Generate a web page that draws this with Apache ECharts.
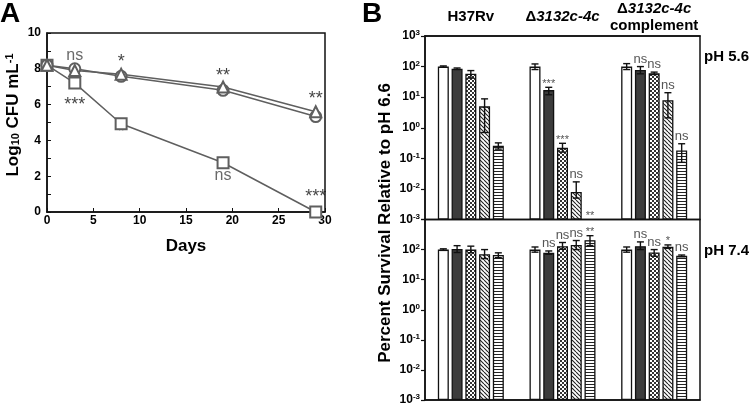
<!DOCTYPE html>
<html lang="en">
<head>
<meta charset="UTF-8">
<title>Survival at acidic pH</title>
<script src="https://cdn.jsdelivr.net/npm/echarts@6/dist/echarts.min.js"></script>
<style>html,body{margin:0;padding:0;background:#fff;}</style>
</head>
<body>
<div id="mybox" style="width:750px;height:408px;"></div>
<script>
// ---- panel A: log10 CFU/mL over time ----
var days = [0, 3, 8, 19, 29];
var circleLog = [8.2, 8.0, 7.58, 6.8, 5.33];
var triangleLog = [8.2, 7.9, 7.7, 6.98, 5.6];
var squareLog = [8.2, 7.2, 4.93, 2.75, 0.0];
// significance marks in A: [day, y, text]
var notesA = [[3, 8.75, 'ns'], [8, 8.4, '*'], [19, 7.6, '**'], [29, 6.3, '**'],
              [3, 6.0, '***'], [8, 4.45, '*'], [19, 2.05, 'ns'], [29, 0.85, '***']];

// ---- panel B: percent survival relative to pH 6.6 ----
var strains = ['H37Rv', 'Δ3132c-4c', 'Δ3132c-4c complement'];
var barKinds = ['white', 'dark', 'checker', 'diagonal', 'horizontal'];
// one row per strain, one column per bar kind
var ph56Mean = [[100, 85, 58, 5, 0.26], [100, 17, 0.22, 0.008, null], [100, 78, 60, 8, 0.18]];
var ph56Low  = [[95, 80, 42, 0.7, 0.2], [80, 12, 0.16, 0.005, null], [80, 58, 55, 2.1, 0.074]];
var ph56High = [[105, 90, 74, 8.8, 0.32], [122, 21, 0.31, 0.017, null], [125, 100, 66, 14, 0.3]];
var ph56Sig  = [['', '', '', '', ''], ['', '***', '***', 'ns', '**'], ['', 'ns', 'ns', 'ns', 'ns']];
var ph74Mean = [[100, 105, 100, 70, 66], [100, 78, 130, 143, 205], [100, 130, 80, 125, 62]];
var ph74Low  = [[94, 80, 78, 50, 54], [82, 70, 102, 100, 136], [82, 100, 60, 110, 58]];
var ph74High = [[106, 135, 130, 100, 78], [122, 90, 172, 200, 290], [122, 180, 100, 143, 66]];
var ph74Sig  = [['', '', '', '', ''], ['', 'ns', 'ns', 'ns', '**'], ['', 'ns', 'ns', '*', 'ns']];
var yTicksB = [0.001, 0.01, 0.1, 1, 10, 100, 1000];

var FONT = '"Liberation Sans", Arial, Helvetica, sans-serif';
var BAR_W = 11, BAR_STEP = 13.75;
var INK = '#111';

// fill patterns for the bars
function pattern(kind) {
    if (kind === 'white') return '#ffffff';
    if (kind === 'dark') return '#3c3c3c';
    var c = document.createElement('canvas');
    var ctx;
    if (kind === 'checker') {
        c.width = 4; c.height = 4; ctx = c.getContext('2d');
        ctx.fillStyle = '#fff'; ctx.fillRect(0, 0, 4, 4);
        ctx.fillStyle = '#333'; ctx.fillRect(0, 0, 2, 2); ctx.fillRect(2, 2, 2, 2);
    } else if (kind === 'diagonal') {
        c.width = 4; c.height = 4; ctx = c.getContext('2d');
        ctx.fillStyle = '#fff'; ctx.fillRect(0, 0, 4, 4);
        ctx.strokeStyle = '#222'; ctx.lineWidth = 1.1;
        ctx.beginPath();
        [-4, 0, 4].forEach(function (k) { ctx.moveTo(k, 0); ctx.lineTo(k + 4, 4); });
        ctx.stroke();
    } else {
        c.width = 4; c.height = 3; ctx = c.getContext('2d');
        ctx.fillStyle = '#fff'; ctx.fillRect(0, 0, 4, 3);
        ctx.fillStyle = '#222'; ctx.fillRect(0, 0, 4, 1);
    }
    return {image: c, repeat: 'repeat'};
}

function pairs(xs, ys) {
    return xs.map(function (x, i) { return [x, ys[i]]; });
}

function powLabel(v) {
    var e = Math.round(Math.log10(v));
    return '{b|10}{s|' + e + '}';
}

function strainLabel(v) {
    if (v.indexOf('Δ') !== 0) return '{b|' + v + '}';
    var out = '{b|Δ}{bi|3132c-4c}';
    if (v.indexOf('complement') > 0) out += '\n{b|complement}';
    return out;
}

// error bars + significance text, placed on the bar of the same strain/kind
function errRender(sigFlat) {
    return function (params, api) {
        var g = api.value(0), b = api.value(1);
        var lo = api.value(2), hi = api.value(3);
        var anchor = api.coord([g, api.value(4)]);
        var x = anchor[0] + (b - 2) * BAR_STEP;
        var kids = [];
        if (!isNaN(hi) && hi > 0) {
            var yHi = api.coord([g, hi])[1];
            var yLo = api.coord([g, lo])[1];
            var ls = {stroke: INK, lineWidth: 1.4};
            kids.push({type: 'line', shape: {x1: x, y1: yLo, x2: x, y2: yHi}, style: ls});
            kids.push({type: 'line', shape: {x1: x - 3.5, y1: yHi, x2: x + 3.5, y2: yHi}, style: ls});
            kids.push({type: 'line', shape: {x1: x - 3.5, y1: yLo, x2: x + 3.5, y2: yLo}, style: ls});
        }
        var t = sigFlat[params.dataIndex];
        if (t) {
            var isNs = t === 'ns';
            kids.push({
                type: 'text', x: x, y: anchor[1] - (isNs ? 1 : -2),
                style: {text: t, align: 'center', verticalAlign: 'bottom', fill: '#555',
                    fontFamily: FONT, fontSize: isNs ? 13 : 11}
            });
        }
        return {type: 'group', children: kids};
    };
}

function panelSeries(idx, mean, low, high, sig) {
    var list = [];
    barKinds.forEach(function (kind, b) {
        list.push({
            type: 'bar', name: kind, xAxisIndex: idx, yAxisIndex: idx,
            data: mean.map(function (row) { return row[b]; }),
            barWidth: BAR_W, barGap: '25%',
            itemStyle: {color: pattern(kind), borderColor: INK, borderWidth: 1.3},
            silent: true
        });
    });
    var flat = [], sigFlat = [];
    mean.forEach(function (row, g) {
        row.forEach(function (m, b) {
            var top = high[g][b] != null ? high[g][b] : 0.001;
            flat.push([g, b, low[g][b], high[g][b], top]);
            sigFlat.push(sig[g][b]);
        });
    });
    list.push({
        type: 'custom', xAxisIndex: idx, yAxisIndex: idx, data: flat,
        encode: {x: 0, y: 4}, renderItem: errRender(sigFlat), z: 10, silent: true, clip: false
    });
    return list;
}

var axisLine = {show: true, lineStyle: {color: INK, width: 1.5}};
var gridBase = {show: true, borderColor: INK, borderWidth: 1.5, outerBoundsMode: 'none', containLabel: false};
var boldTick = {color: '#000', fontWeight: 'bold', fontSize: 12, fontFamily: FONT};
var richPow = {
    b: {fontWeight: 'bold', fontSize: 12, fontFamily: FONT, color: '#000'},
    s: {fontWeight: 'bold', fontSize: 8, fontFamily: FONT, color: '#000', verticalAlign: 'top', padding: [0, 0, 6, 0]}
};
function logAxis(gridIndex, hideTop) {
    return {
        gridIndex: gridIndex, type: 'log', logBase: 10, min: yTicksB[0], max: yTicksB[yTicksB.length - 1],
        startValue: yTicksB[0],
        axisLine: axisLine, splitLine: {show: false},
        axisTick: {show: true, length: 4, lineStyle: {color: INK, width: 1.2}},
        axisLabel: {margin: 5, formatter: function (v) {
            if (hideTop && Math.round(Math.log10(v)) === 3) return '';
            return powLabel(v);
        }, rich: richPow}
    };
}

var mychart = echarts.init(document.getElementById('mybox'));
var seriesA = [
    {data: squareLog, symbol: 'emptyRect', size: 11},
    {data: circleLog, symbol: 'emptyCircle', size: 11},
    {data: triangleLog, symbol: 'emptyTriangle', size: 11}
].map(function (s) {
    return {
        type: 'line', xAxisIndex: 0, yAxisIndex: 0, data: pairs(days, s.data),
        symbol: s.symbol, symbolSize: s.size, showSymbol: true,
        lineStyle: {color: '#5f5f5f', width: 1.5},
        itemStyle: {color: '#5f5f5f', borderWidth: 1.5}
    };
});
seriesA.push({
    type: 'scatter', xAxisIndex: 0, yAxisIndex: 0, data: notesA, symbolSize: 0, silent: true,
    label: {show: true, position: 'inside', formatter: function (p) {
        return p.value[2] === 'ns' ? '{n|ns}' : '{a|' + p.value[2] + '}';
    }, rich: {
        n: {fontSize: 16, color: '#444', fontFamily: FONT},
        a: {fontSize: 18, color: '#111', fontFamily: FONT}
    }}
});

mychart.setOption({
    animation: false,
    grid: [
        Object.assign({left: 47, top: 33, width: 278, height: 179}, gridBase),
        Object.assign({left: 425, top: 36, width: 275, height: 183.5}, gridBase),
        Object.assign({left: 425, top: 219.5, width: 275, height: 180.5}, gridBase)
    ],
    xAxis: [
        {gridIndex: 0, type: 'value', min: 0, max: 30, interval: 5,
            axisLine: axisLine, splitLine: {show: false},
            axisTick: {show: true, inside: true, length: 4, lineStyle: {color: INK}},
            axisLabel: Object.assign({margin: 3}, boldTick)},
        {gridIndex: 1, type: 'category', data: strains, position: 'top',
            axisLine: axisLine, axisTick: {show: false},
            axisLabel: {margin: 19, verticalAlign: 'middle', interval: 0, formatter: strainLabel, rich: {
                b: {fontWeight: 'bold', fontSize: 15, lineHeight: 17, fontFamily: FONT, color: '#000'},
                bi: {fontWeight: 'bold', fontStyle: 'italic', fontSize: 15, lineHeight: 17, fontFamily: FONT, color: '#000'}
            }}},
        {gridIndex: 2, type: 'category', data: strains,
            axisLine: axisLine, axisTick: {show: false}, axisLabel: {show: false}}
    ],
    yAxis: [
        {gridIndex: 0, type: 'value', min: 0, max: 10, interval: 2,
            axisLine: axisLine, splitLine: {show: false}, minorSplitLine: {show: false},
            axisTick: {show: true, inside: true, length: 4, lineStyle: {color: INK}},
            minorTick: {show: true, splitNumber: 2, length: 4, lineStyle: {color: INK}},
            axisLabel: Object.assign({margin: 6}, boldTick)},
        logAxis(1, false),
        logAxis(2, true)
    ],
    graphic: [
        {type: 'text', x: 0, y: 0, style: {text: 'A', fontSize: 28, fontWeight: 'bold', fontFamily: FONT, fill: '#000', verticalAlign: 'top'}},
        {type: 'text', x: 362, y: 0, style: {text: 'B', fontSize: 28, fontWeight: 'bold', fontFamily: FONT, fill: '#000', verticalAlign: 'top'}},
        {type: 'text', x: 186, y: 246, style: {text: 'Days', fontSize: 17, fontWeight: 'bold', fontFamily: FONT, fill: '#000', align: 'center', verticalAlign: 'middle'}},
        {type: 'text', x: 704, y: 57, style: {text: 'pH 5.6', fontSize: 15, fontWeight: 'bold', fontFamily: FONT, fill: '#000', align: 'left', verticalAlign: 'middle'}},
        {type: 'text', x: 704, y: 251, style: {text: 'pH 7.4', fontSize: 15, fontWeight: 'bold', fontFamily: FONT, fill: '#000', align: 'left', verticalAlign: 'middle'}},
        {type: 'text', x: 13, y: 115, rotation: Math.PI / 2, style: {
            text: '{t|Log}{d|10}{t| CFU mL}{u|-1}', align: 'center', verticalAlign: 'middle',
            rich: {
                t: {fontSize: 17, fontWeight: 'bold', fontFamily: FONT, fill: '#000'},
                d: {fontSize: 11, fontWeight: 'bold', fontFamily: FONT, fill: '#000', verticalAlign: 'bottom'},
                u: {fontSize: 11, fontWeight: 'bold', fontFamily: FONT, fill: '#000', verticalAlign: 'top'}
            }}},
        {type: 'text', x: 385, y: 223, rotation: Math.PI / 2, style: {
            text: 'Percent Survival Relative to pH 6.6', fontSize: 17, fontWeight: 'bold', fontFamily: FONT,
            fill: '#000', align: 'center', verticalAlign: 'middle'}}
    ],
    series: seriesA
        .concat(panelSeries(1, ph56Mean, ph56Low, ph56High, ph56Sig))
        .concat(panelSeries(2, ph74Mean, ph74Low, ph74High, ph74Sig))
});
</script>
</body>
</html>
